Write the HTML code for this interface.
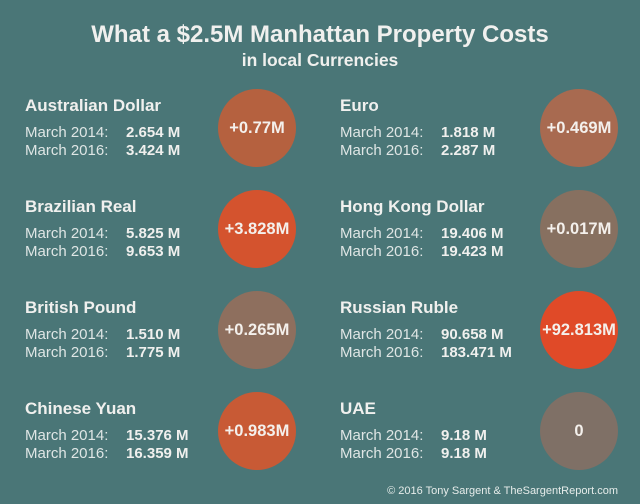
<!DOCTYPE html>
<html><head><meta charset="utf-8"><style>
body{margin:0;width:640px;height:504px;background:#4a7677;font-family:"Liberation Sans",sans-serif;color:#f0f0ee;position:relative;overflow:hidden}
.t{position:absolute;white-space:nowrap}
.title{left:0;width:640px;text-align:center;top:21px;font-size:24px;font-weight:bold}
.sub{left:0;width:640px;text-align:center;top:50px;font-size:17.5px;font-weight:bold}
.h{font-size:17px;font-weight:bold}
.l{font-size:15px;color:#dfe6e5}
.v{font-size:15px;font-weight:bold}
.c{position:absolute;border-radius:50%;display:flex;align-items:center;justify-content:center;font-weight:bold;font-size:16.5px;color:#f4f0ec}
.foot{font-size:11px;right:22px;top:485px;color:#e6ecea}
</style></head><body>
<div class="t title">What a $2.5M Manhattan Property Costs</div>
<div class="t sub">in local Currencies</div>
<div class="t foot">© 2016 Tony Sargent &amp; TheSargentReport.com</div>
<script>
const currencies=["Australian Dollar","Euro","Brazilian Real","Hong Kong Dollar","British Pound","Russian Ruble","Chinese Yuan","UAE"];
const values2014=["2.654","1.818","5.825","19.406","1.510","90.658","15.376","9.18"];
const values2016=["3.424","2.287","9.653","19.423","1.775","183.471","16.359","9.18"];
const changes=["+0.77M","+0.469M","+3.828M","+0.017M","+0.265M","+92.813M","+0.983M","0"];
const colors=["#b5613f","#a86a50","#d4532e","#877060","#8e6f5e","#e04a28","#c85a35","#7f7066"];
function add(cls,txt,x,y,name){const d=document.createElement('div');d.className='t '+cls;d.textContent=txt;d.style.left=x+'px';d.style.top=y+'px';


document.body.appendChild(d);return d;}
currencies.forEach((c,i)=>{
 const col=i%2,row=Math.floor(i/2);
 const x=col?340:25, y=96+row*101, vx=col?441:126, cx=col?579:257, cy=128+row*101;
 add('h',c,x,y,'currency-name');
 add('l','March 2014:',x,y+28,'label-2014');
 add('l','March 2016:',x,y+46,'label-2016');
 add('v',values2014[i]+' M',vx,y+28,'value-2014');
 add('v',values2016[i]+' M',vx,y+46,'value-2016');
 const r=39;const ci=document.createElement('div');ci.className='c';
 ci.style.left=(cx-r)+'px';ci.style.top=(cy-r)+'px';ci.style.width=2*r+'px';ci.style.height=2*r+'px';ci.style.background=colors[i];ci.textContent=changes[i];
 
 
 document.body.appendChild(ci);
});
</script>
</body></html>
